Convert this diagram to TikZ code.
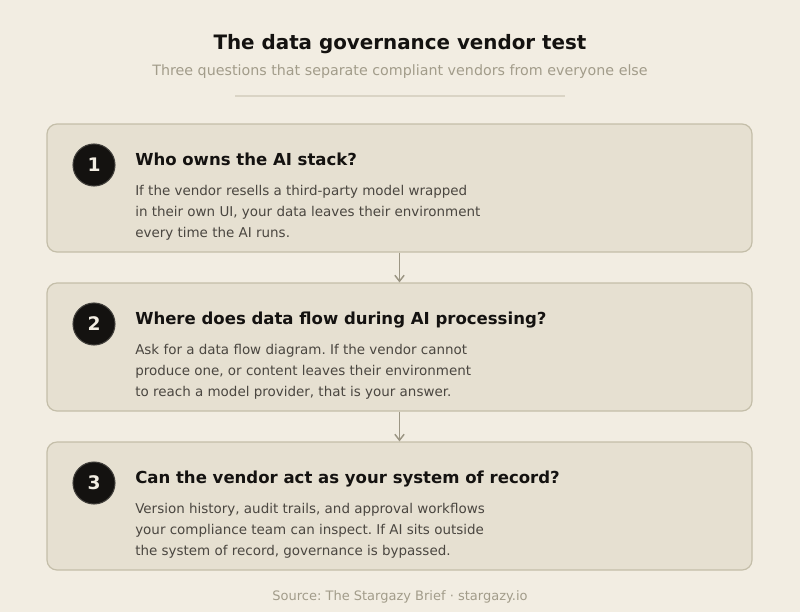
\documentclass[tikz,border=0pt]{standalone}
\usepackage{fontspec}
\setmainfont{DejaVu Sans}
\usepackage{tikz}
\usetikzlibrary{positioning,arrows.meta,shapes}
\usepackage{xcolor}
\frenchspacing

\definecolor{paper}{HTML}{F2EDE2}
\definecolor{cardfill}{HTML}{E6E0D1}
\definecolor{cardline}{HTML}{C4BEA9}
\definecolor{ink}{HTML}{141210}
\definecolor{bodyink}{HTML}{4A4640}
\definecolor{muted}{HTML}{A29C8A}
\definecolor{rule}{HTML}{DAD4C5}
\definecolor{arrowgray}{HTML}{9C9684}

\tikzset{
  card/.style={rectangle, rounded corners=7.5pt, fill=cardfill, draw=cardline, line width=0.9pt,
    minimum width=528.75pt, minimum height=96pt},
  numdot/.style={circle, fill=ink, draw=ink!80!paper, line width=0.8pt, minimum size=31.5pt, inner sep=0pt,
    text=paper, font=\fontsize{14}{16}\selectfont\bfseries},
  heading/.style={anchor=base west, inner sep=0pt, text=ink, font=\fontsize{12.4}{14}\selectfont\bfseries},
  bodytext/.style={anchor=north west, inner sep=0pt, align=left, text=bodyink, font=\fontsize{10.1}{15.75}\selectfont},
  link/.style={draw=arrowgray, line width=1.1pt, -{Straight Barb[length=4.5pt,width=7pt]}}
}

\begin{document}
\begin{tikzpicture}[x=0.75pt, y=-0.75pt]
        \fill[paper] (0,0) rectangle (800,612);
        \useasboundingbox (0,0) rectangle (800,612);

        % Title block
        \node[anchor=base, text=ink, font=\fontsize{14.9}{17}\selectfont\bfseries] (title) at (400,49.5) {The data governance vendor test};
        \node[anchor=base, text=muted, font=\fontsize{10.7}{13}\selectfont] (subtitle) at (400,75) {Three questions that separate compliant vendors from everyone else};
        \coordinate (ruleL) at (235,96);
        \coordinate (ruleR) at (565,96);
        \draw[rule, line width=0.8pt] (ruleL) -- (ruleR);

        % Card 1
        \node[card] (card1) at (399.5,188) {};
        \node[numdot] (num1) at (94,165) {1};
        \node[heading] (head1) at (135,165.5) {Who owns the AI stack?};
        \node[bodytext] (body1) at (135,185) {If the vendor resells a third-party model wrapped\\in their own UI, your data leaves their environment\\every time the AI runs.};

        % Card 2
        \node[card] (card2) at (399.5,347) {};
        \node[numdot] (num2) at (94,324) {2};
        \node[heading] (head2) at (135,324.5) {Where does data flow during AI processing?};
        \node[bodytext] (body2) at (135,344) {Ask for a data flow diagram. If the vendor cannot\\produce one, or content leaves their environment\\to reach a model provider, that is your answer.};

        % Card 3
        \node[card] (card3) at (399.5,506) {};
        \node[numdot] (num3) at (94,483) {3};
        \node[heading] (head3) at (135,483.5) {Can the vendor act as your system of record?};
        \node[bodytext] (body3) at (135,503) {Version history, audit trails, and approval workflows\\your compliance team can inspect. If AI sits outside\\the system of record, governance is bypassed.};

        % Links between cards
        \draw[link] (card1.south) -- (card2.north);
        \draw[link] (card2.south) -- (card3.north);

        % Footer
        \node[anchor=base, text=muted, font=\fontsize{9.75}{12}\selectfont] (source) at (400,600.5) {Source: The Stargazy Brief · stargazy.io};
\end{tikzpicture}
\end{document}
